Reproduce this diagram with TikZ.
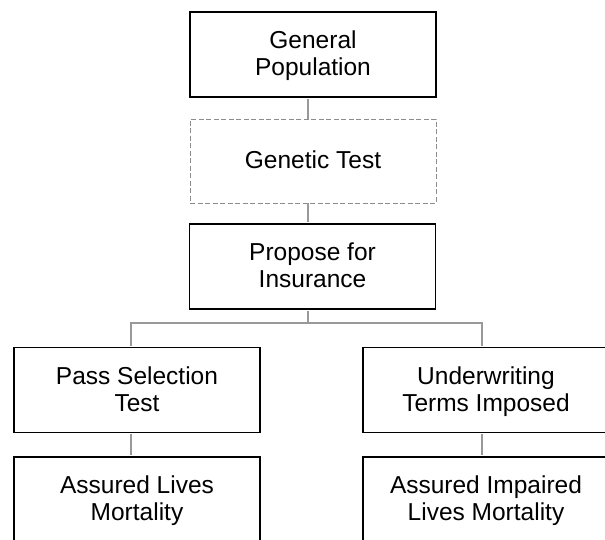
\documentclass[tikz,border=0pt]{standalone}
\usepackage{fontspec}
\setmainfont{Liberation Sans}
\usetikzlibrary{calc}
\newcommand\lnstrut{\rule[-6pt]{0pt}{27pt}}
\begin{document}
\begin{tikzpicture}[x=1pt,y=-1pt,
  boxnode/.style={draw=black,line width=1.6pt,minimum width=246pt,minimum height=85pt,
    inner sep=0pt,align=center,font=\fontsize{24.5}{27}\selectfont},
  dashbox/.style={draw=black!45,line width=0.8pt,dash pattern=on 5pt off 2.5pt,
    minimum width=246pt,minimum height=84pt,inner sep=0pt,align=center,
    font=\fontsize{24.5}{27}\selectfont},
  conn/.style={draw=black!40,line width=2.2pt}]
\useasboundingbox (0,0) rectangle (605,539);
\clip (0,0) rectangle (605,539);
\fill[white] (0,0) rectangle (605,539);
\node[boxnode] (gp) at (313,54.5) {General\lnstrut\\Population\lnstrut};
\node[dashbox] (gt) at (313,161) {Genetic Test\lnstrut};
\node[boxnode] (pi) at (312.5,266.5) {Propose for\lnstrut\\Insurance\lnstrut};
\node[boxnode] (pst) at (137,390) {Pass Selection\lnstrut\\Test\lnstrut};
\node[boxnode] (uti) at (486,390) {Underwriting\lnstrut\\Terms Imposed\lnstrut};
\node[boxnode] (alm) at (137,499.5) {Assured Lives\lnstrut\\Mortality\lnstrut};
\node[boxnode] (ailm) at (486,499.5) {Assured Impaired\lnstrut\\Lives Mortality\lnstrut};
\coordinate (bus) at (308,323);
\draw[conn] ($(gp.south)+(-5,1)$) -- ($(gt.north)+(-5,0)$);
\draw[conn] ($(gt.south)+(-5,0)$) -- ($(pi.north)+(-4.5,-1)$);
\draw[conn] ($(pi.south)+(-4.5,1)$) -- (bus);
\draw[conn] ($(pst.north)+(-6,-1)$) |- (bus) -| ($(uti.north)+(-4,-1)$);
\draw[conn] ($(pst.south)+(-6,1)$) -- ($(alm.north)+(-6,-1)$);
\draw[conn] ($(uti.south)+(-4,1)$) -- ($(ailm.north)+(-4,-1)$);
\end{tikzpicture}
\end{document}
